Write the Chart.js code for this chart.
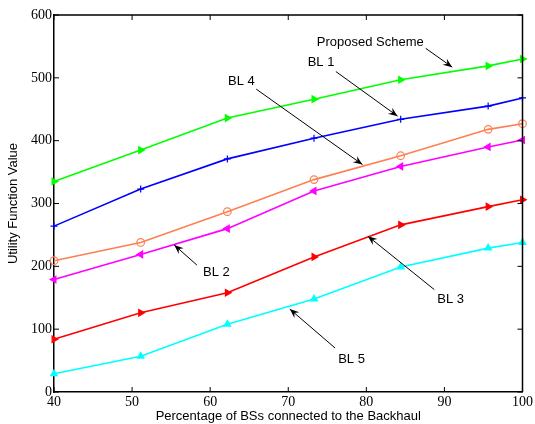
<!DOCTYPE html>
<html>
<head>
<meta charset="utf-8">
<script src="https://cdn.jsdelivr.net/npm/chart.js@4/dist/chart.umd.min.js"></script>
<style>
  html, body { margin: 0; padding: 0; background: #fff; }
  #wrap { width: 535px; height: 424px; }
</style>
</head>
<body>
<div id="wrap"><canvas id="chartUtility"></canvas></div>
<script>
const xValues = [40, 51.1, 62.2, 73.3, 84.4, 95.6, 100];
const proposed = [335, 385, 436, 466, 497, 519, 530];
const bl1 = [264, 323, 371, 404, 434, 455, 468];
const bl4 = [209, 238, 287, 338, 376, 418, 427];
const bl2 = [179, 219, 260, 320, 359, 390, 401];
const bl3 = [84, 126, 158, 215, 266, 295, 306];
const bl5 = [29, 57, 108, 148, 199, 229, 238];

// labels with arrows, in data units: text at (tx,ty), arrow from (x1,y1) to (x2,y2)
const notes = [
  { text: "Proposed Scheme", tx: 80.5, ty: 557, x1: 87.6, y1: 547, x2: 91.0, y2: 517 },
  { text: "BL 1", tx: 74.2, ty: 524, x1: 76.1, y1: 510, x2: 84.0, y2: 439 },
  { text: "BL 4", tx: 64.0, ty: 495, x1: 65.9, y1: 482, x2: 79.5, y2: 362 },
  { text: "BL 2", tx: 60.8, ty: 190, x1: 58.3, y1: 202, x2: 55.4, y2: 234 },
  { text: "BL 3", tx: 90.8, ty: 148, x1: 88.7, y1: 163, x2: 80.2, y2: 248 },
  { text: "BL 5", tx: 78.1, ty: 52, x1: 76.0, y1: 70, x2: 70.2, y2: 132 }
];

const pts = arr => arr.map((v, i) => ({ x: xValues[i], y: v }));

function series(label, data, color, style, rotation, filled) {
  return {
    label: label,
    data: pts(data),
    borderColor: color,
    backgroundColor: filled ? color : "rgba(0,0,0,0)",
    pointBackgroundColor: filled ? color : "rgba(0,0,0,0)",
    pointBorderColor: color,
    pointStyle: style,
    rotation: rotation,
    pointRadius: style === "cross" ? 3.5 : 3.8,
    pointBorderWidth: 1.2,
    borderWidth: 1.6,
    tension: 0,
    fill: false,
    clip: false
  };
}

// box, inward ticks and annotations
const decor = {
  id: "decor",
  afterDraw(chart) {
    const ctx = chart.ctx;
    const a = chart.chartArea;
    const xs = chart.scales.x, ys = chart.scales.y;
    ctx.save();
    ctx.strokeStyle = "#000";
    ctx.lineWidth = 1.5;
    ctx.beginPath();
    ctx.moveTo(a.left, a.top); ctx.lineTo(a.right, a.top); ctx.lineTo(a.right, a.bottom);
    ctx.stroke();
    ctx.lineWidth = 1;
    ctx.beginPath();
    xs.ticks.forEach(t => {
      const p = xs.getPixelForValue(t.value);
      ctx.moveTo(p, a.bottom); ctx.lineTo(p, a.bottom - 5);
      ctx.moveTo(p, a.top); ctx.lineTo(p, a.top + 5);
    });
    ys.ticks.forEach(t => {
      const p = ys.getPixelForValue(t.value);
      ctx.moveTo(a.left, p); ctx.lineTo(a.left + 5, p);
      ctx.moveTo(a.right, p); ctx.lineTo(a.right - 5, p);
    });
    ctx.stroke();

    ctx.font = "13px 'Liberation Sans', Arial, sans-serif";
    ctx.fillStyle = "#000";
    ctx.textAlign = "center";
    ctx.textBaseline = "middle";
    notes.forEach(n => {
      ctx.fillText(n.text, xs.getPixelForValue(n.tx), ys.getPixelForValue(n.ty));
      const x1 = xs.getPixelForValue(n.x1), y1 = ys.getPixelForValue(n.y1);
      const x2 = xs.getPixelForValue(n.x2), y2 = ys.getPixelForValue(n.y2);
      ctx.lineWidth = 1;
      ctx.beginPath(); ctx.moveTo(x1, y1); ctx.lineTo(x2, y2); ctx.stroke();
      const ang = Math.atan2(y2 - y1, x2 - x1);
      const L = 10, w = 0.38;
      ctx.beginPath();
      ctx.moveTo(x2, y2);
      ctx.lineTo(x2 - L * Math.cos(ang - w), y2 - L * Math.sin(ang - w));
      ctx.lineTo(x2 - L * 0.6 * Math.cos(ang), y2 - L * 0.6 * Math.sin(ang));
      ctx.lineTo(x2 - L * Math.cos(ang + w), y2 - L * Math.sin(ang + w));
      ctx.closePath();
      ctx.fill();
    });
    ctx.restore();
  }
};

const serifTicks = { family: "'Liberation Serif', 'Times New Roman', serif", size: 14 };
const sansTitle = { family: "'Liberation Sans', Arial, sans-serif", size: 13 };

new Chart(document.getElementById("chartUtility"), {
  type: "line",
  data: {
    datasets: [
      series("Proposed Scheme", proposed, "#00ff00", "triangle", 90, true),
      series("BL 1", bl1, "#0000ff", "cross", 0, false),
      series("BL 4", bl4, "#ff7f50", "circle", 0, false),
      series("BL 2", bl2, "#ff00ff", "triangle", -90, true),
      series("BL 3", bl3, "#ff0000", "triangle", 90, true),
      series("BL 5", bl5, "#00ffff", "triangle", 0, true)
    ]
  },
  options: {
    responsive: true,
    maintainAspectRatio: false,
    animation: false,
    layout: { padding: { left: 0, right: 12, top: 15, bottom: 0 } },
    plugins: { legend: { display: false }, tooltip: { enabled: false } },
    scales: {
      x: {
        type: "linear",
        min: 40, max: 100,
        ticks: { stepSize: 10, color: "#000", font: serifTicks, padding: 2, maxRotation: 0 },
        grid: { display: false, drawTicks: false },
        border: { display: true, color: "#000", width: 1.5 },
        title: { display: true, text: "Percentage of BSs connected to the Backhaul", color: "#000", font: sansTitle, padding: { top: 0, bottom: 0 } },
        afterFit: s => { s.height = 32; }
      },
      y: {
        min: 0, max: 600,
        ticks: { stepSize: 100, color: "#000", font: serifTicks, padding: 2 },
        grid: { display: false, drawTicks: false },
        border: { display: true, color: "#000", width: 1.5 },
        title: { display: true, text: "Utility Function Value", color: "#000", font: sansTitle, padding: { top: 6, bottom: 0 } },
        afterFit: s => { s.width = 54; }
      }
    }
  },
  plugins: [decor]
});
</script>
</body>
</html>
